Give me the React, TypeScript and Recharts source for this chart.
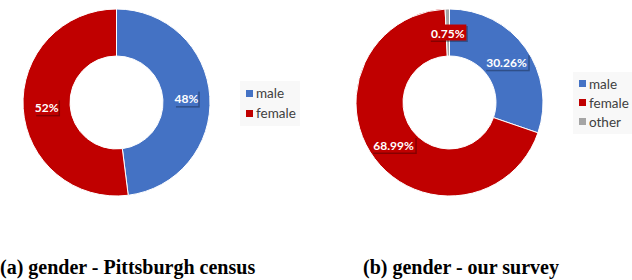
import React from 'react';
import { PieChart, Pie, Cell, Legend } from 'recharts';

const censusCategories = ['male', 'female'];
const censusValues = [48, 52];
const surveyCategories = ['male', 'female', 'other'];
const surveyValues = [30.26, 68.99, 0.75];
const colors = ['#4472C4', '#C00000', '#A5A5A5'];
// the tiny "other" slice gets its label box drawn over the red ring, like the original
const censusBoxColors = ['#4472C4', '#C00000'];
const surveyBoxColors = ['#4472C4', '#C00000', '#C00000'];

const RAD = Math.PI / 180;

const makeLabel = (decimals: number, boxColors: string[]) => (props: any) => {
  const { cx, cy, midAngle, innerRadius, outerRadius, value, index } = props;
  const r = (innerRadius + outerRadius) / 2;
  const x = cx + r * Math.cos(-midAngle * RAD);
  const y = cy + r * Math.sin(-midAngle * RAD);
  const text = `${Number(value).toFixed(decimals)}%`;
  const w = text.length * 6.6 + 4;
  const h = 16;
  return (
    <g>
      <rect x={x - w / 2 + 1.5} y={y - h / 2 + 1.5} width={w} height={h} fill="#000" opacity={0.3} />
      <rect x={x - w / 2} y={y - h / 2} width={w} height={h} fill={boxColors[index]} />
      <text x={x} y={y + 0.5} fill="#fff" fontSize={12} fontWeight="bold" fontFamily="Lato" textAnchor="middle" dominantBaseline="central">
        {text}
      </text>
    </g>
  );
};

const legendContent = (cats: string[], gap: number) => () => (
  <div style={{ background: '#f8f8f8', padding: '2px 4px 3px 6px', fontFamily: 'Lato', fontSize: 13.5, color: '#404040' }}>
    {cats.map((c, i) => (
      <div key={c} style={{ display: 'flex', alignItems: 'center', height: gap }}>
        <span style={{ width: 7, height: 7, background: colors[i], marginRight: 3, display: 'inline-block' }} />
        <span>{c}</span>
      </div>
    ))}
  </div>
);

const Donut = ({ cats, values, cx, decimals, boxColors, legendPos, gap }: any) => {
  const data = cats.map((c: string, i: number) => ({ name: c, value: values[i] }));
  return (
    <PieChart width={316} height={210} margin={{ top: 0, right: 0, bottom: 0, left: 0 }}>
      <Pie
        data={data}
        dataKey="value"
        nameKey="name"
        cx={cx}
        cy={102.5}
        innerRadius={46.5}
        outerRadius={93.5}
        startAngle={90}
        endAngle={-270}
        stroke="#fff"
        strokeWidth={1}
        label={makeLabel(decimals, boxColors)}
        labelLine={false}
        isAnimationActive={false}
      >
        {data.map((d: any, i: number) => (
          <Cell key={d.name} fill={colors[i]} />
        ))}
      </Pie>
      <Legend
        content={legendContent(cats, gap)}
        wrapperStyle={{ position: 'absolute', left: legendPos[0], top: legendPos[1], width: 'auto' }}
      />
    </PieChart>
  );
};

const captionStyle: React.CSSProperties = {
  position: 'absolute',
  top: 256,
  fontFamily: 'Liberation Serif',
  fontWeight: 'bold',
  fontSize: 20,
  lineHeight: '22px',
  whiteSpace: 'nowrap',
  color: '#000',
};

export default function App() {
  return (
    <div style={{ position: 'absolute', left: 0, top: 0, width: 632, height: 280, background: '#fff' }}>
      <div style={{ position: 'absolute', left: 0, top: 0 }}>
        <Donut cats={censusCategories} values={censusValues} cx={116.5} decimals={0} boxColors={censusBoxColors} legendPos={[240, 81]} gap={20} />
      </div>
      <div style={{ position: 'absolute', left: 316, top: 0 }}>
        <Donut cats={surveyCategories} values={surveyValues} cx={133.5} decimals={2} boxColors={surveyBoxColors} legendPos={[257, 72]} gap={19} />
      </div>
      <div style={{ ...captionStyle, left: 0 }}>(a) gender - Pittsburgh census</div>
      <div style={{ ...captionStyle, left: 363 }}>(b) gender - our survey</div>
    </div>
  );
}
